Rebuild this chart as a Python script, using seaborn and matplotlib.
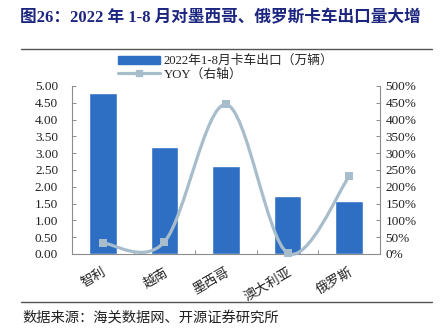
import numpy as np
import pandas as pd
import seaborn as sns
import matplotlib.pyplot as plt
from matplotlib.path import Path
from matplotlib.patches import PathPatch
from matplotlib.lines import Line2D
from matplotlib.patches import Patch
from matplotlib.ticker import FixedLocator, FuncFormatter

countries = ["智利", "越南", "墨西哥", "澳大利亚", "俄罗斯"]
exports = [4.78, 3.17, 2.62, 1.72, 1.58]      # 万辆
yoy = [33, 36, 445, 3, 231]                    # %

title = "图26：2022 年 1-8 月对墨西哥、俄罗斯卡车出口量大增"
bar_label = "2022年1-8月卡车出口（万辆）"
line_label = "YOY（右轴）"
source = "数据来源：海关数据网、开源证券研究所"

sns.set_theme(style="white")
plt.rcParams["font.family"] = ["Liberation Serif", "Noto Sans CJK SC"]
plt.rcParams["axes.unicode_minus"] = False

BAR = "#2E6FC4"
LINE = "#A7BDCB"
NAVY = "#1C2580"

df = pd.DataFrame({"country": countries, "exports": exports, "yoy": yoy})

fig = plt.figure(figsize=(4.41, 3.35), dpi=100)
ax = fig.add_axes([72 / 441, 1 - 254 / 335, 308 / 441, 168 / 335])

sns.barplot(data=df, x="country", y="exports", color=BAR, width=0.45,
            saturation=1, ax=ax, zorder=2)
ax.set_xlim(-0.5, len(countries) - 0.5)
ax.set_ylim(0, 5)
ax.yaxis.set_major_locator(FixedLocator(np.arange(0, 5.01, 0.5)))
ax.yaxis.set_major_formatter(FuncFormatter(lambda v, p: f"{v:.2f}"))
ax.set_xlabel("")
ax.set_ylabel("")

ax2 = ax.twinx()
ax2.set_ylim(0, 500)
ax2.yaxis.set_major_locator(FixedLocator(np.arange(0, 501, 50)))
ax2.yaxis.set_major_formatter(FuncFormatter(lambda v, p: f"{v:.0f}%"))

# smoothed YOY curve (cubic Bezier segments through the data points)
xs = np.arange(len(yoy), dtype=float)
ys = np.asarray(yoy, dtype=float)
n = len(xs)
verts = [(xs[0], ys[0])]
codes = [Path.MOVETO]
for i in range(n - 1):
    p0 = (xs[max(i - 1, 0)], ys[max(i - 1, 0)])
    p1 = (xs[i], ys[i])
    p2 = (xs[i + 1], ys[i + 1])
    p3 = (xs[min(i + 2, n - 1)], ys[min(i + 2, n - 1)])
    c1 = (p1[0] + (p2[0] - p0[0]) / 6, p1[1] + (p2[1] - p0[1]) / 6)
    c2 = (p2[0] - (p3[0] - p1[0]) / 6, p2[1] - (p3[1] - p1[1]) / 6)
    verts += [c1, c2, p2]
    codes += [Path.CURVE4] * 3
ax2.add_patch(PathPatch(Path(verts, codes), facecolor="none", edgecolor=LINE,
                        lw=2.3, zorder=3, clip_on=False, capstyle="round"))
sns.scatterplot(x=xs, y=ys, marker="s", s=38, color=LINE, edgecolor=LINE,
                linewidth=0, ax=ax2, zorder=4, clip_on=False)

for a in (ax, ax2):
    a.spines["top"].set_visible(False)
    for s in ("left", "right", "bottom"):
        a.spines[s].set_color("#8c8c8c")
        a.spines[s].set_linewidth(0.8)
ax.spines["right"].set_visible(False)
ax2.spines["left"].set_visible(False)
ax2.spines["bottom"].set_visible(False)

ax.tick_params(axis="y", direction="in", length=3, width=0.7, color="#8c8c8c",
               labelsize=9.5, pad=10, left=True)
ax2.tick_params(axis="y", direction="in", length=3, width=0.7, color="#8c8c8c",
                labelsize=9.5, pad=4, right=True)
for lab in ax.get_yticklabels() + ax2.get_yticklabels():
    lab.set_color("#222222")

# category ticks on the boundaries between bars
ax.set_xticks(np.arange(len(countries)))
ax.set_xticklabels(countries, rotation=30, fontsize=9.5, color="#222222",
                   ha="right", va="top", rotation_mode="anchor")
ax.tick_params(axis="x", which="major", length=0, pad=9)
ax.set_xticks(np.arange(-0.5, len(countries), 1.0), minor=True)
ax.tick_params(axis="x", which="minor", direction="in", length=3, width=0.7,
               color="#8c8c8c", bottom=True)

handles = [Patch(facecolor=BAR, edgecolor=BAR),
           Line2D([0], [0], color=LINE, lw=2.3, marker="s", markersize=5)]
fig.legend(handles, [bar_label, line_label], loc="upper left",
           bbox_to_anchor=(118 / 441, 1 - 55 / 335), frameon=False,
           fontsize=9.2, handlelength=3.3, handleheight=0.6, handletextpad=0.3,
           labelspacing=0.1, borderpad=0, borderaxespad=0)

fig.text(0.5, 1 - 18 / 335, title, ha="center", va="center", fontsize=12,
         fontweight="bold", color=NAVY)
fig.add_artist(Line2D([21 / 441, 432 / 441], [1 - 49 / 335] * 2,
                      color="#555555", lw=1.0))
fig.add_artist(Line2D([21 / 441, 432 / 441], [1 - 302 / 335] * 2,
                      color="#555555", lw=1.0))
fig.text(22 / 441, 1 - 318 / 335, source, ha="left", va="center",
         fontsize=10.3, color="#222222")

fig.savefig("out.png", dpi=100)
